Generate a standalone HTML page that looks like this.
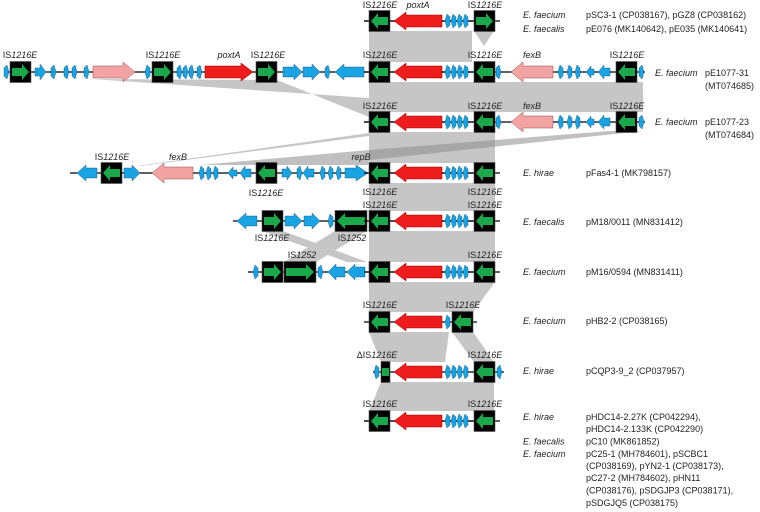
<!DOCTYPE html>
<html><head><meta charset="utf-8"><style>
html,body{margin:0;padding:0;background:#fff;}
svg{display:block;font-family:"Liberation Sans",sans-serif;}
.t{font-size:9px;fill:#222;}
.i{font-style:italic;}
</style></head><body>
<svg width="760" height="512" viewBox="0 0 760 512" xmlns="http://www.w3.org/2000/svg">
<defs>
<g id="isL"><rect x="0" y="-10.5" width="21" height="21" fill="#000" stroke="#555" stroke-width="0.6"/><polygon points="2,0 9,-8 9,-4 19,-4 19,4 9,4 9,8" fill="#1aa84a"/></g>
<g id="isR"><rect x="0" y="-10.5" width="21" height="21" fill="#000" stroke="#555" stroke-width="0.6"/><polygon points="19,0 12,-8 12,-4 2,-4 2,4 12,4 12,8" fill="#1aa84a"/></g>
<polygon id="tL" points="0,0 2,-7 5,-4 5,4 2,7" fill="#1aa3e3" stroke="#0b4f78" stroke-width="0.4"/>
<polygon id="tR" points="5,0 3,-7 0,-4 0,4 3,7" fill="#1aa3e3" stroke="#0b4f78" stroke-width="0.4"/>
<g id="core">
<line x1="364" y1="0" x2="474" y2="0" stroke="#000" stroke-width="1.2"/>
<use href="#isL" x="369"/>
<polygon points="394,0 406,-9 406,-6 442,-6 442,6 406,6 406,9" fill="#ee1c1c" stroke="#900" stroke-width="0.5"/>
<use href="#tL" x="445"/><use href="#tL" x="451"/><use href="#tL" x="457"/><use href="#tL" x="463"/>
</g>
</defs>

<g fill="#c6c6c6">
<rect x="369" y="31" width="103" height="31"/>
<polygon points="474,31 494,31 484,46"/>
<polygon points="92,79 277,80 369,117 369,98"/>
<rect x="369" y="82" width="274" height="30"/>
<rect x="369" y="132" width="126" height="31"/>
<polygon points="369,133 369,136 141,166 137,166"/>
<rect x="369" y="183" width="126" height="28"/>
<rect x="369" y="231" width="126" height="31"/>
<polygon points="262,231 283,231 367,262 347,262"/>
<polygon points="335,231 367,231 316,262 284,262"/>
<polygon points="369,282 495,282 473,312 369,312"/>
<polygon points="369,332 449,332 445,362 381,362"/>
<polygon points="452,332 473,332 494,362 474,362"/>
<polygon points="381,382 494,382 494,411 369,411"/>
</g>
<polygon points="643,131 610,131 369,150 200,165 368,165 369,160" fill="#8c8c8c" opacity="0.55"/>

<g transform="translate(0,21)">
<line x1="364" y1="0" x2="500" y2="0" stroke="#000" stroke-width="1.2"/>
<use href="#core"/><use href="#isR" x="474"/>
</g>
<g transform="translate(0,72)">
<line x1="4" y1="0" x2="645" y2="0" stroke="#000" stroke-width="1.2"/>
<use href="#tR" x="4"/><use href="#isR" x="10"/>
<polygon points="35,-4 40,-4 40,-8 46,0 40,8 40,4 35,4" fill="#1aa3e3" stroke="#0b4f78" stroke-width="0.4"/>
<use href="#tR" x="51"/><use href="#tR" x="64"/><use href="#tR" x="72"/><use href="#tR" x="84"/>
<polygon points="93,-6 123,-6 123,-10 135,0 123,10 123,6 93,6" fill="#f4a3a3" stroke="#8a5050" stroke-width="0.5"/>
<use href="#tL" x="145"/><use href="#isR" x="152"/>
<use href="#tR" x="177"/><use href="#tR" x="183"/><use href="#tR" x="189"/><use href="#tR" x="197"/>
<polygon points="205,-6 241,-6 241,-9 253,0 241,9 241,6 205,6" fill="#ee1c1c" stroke="#900" stroke-width="0.5"/>
<use href="#isR" x="256"/>
<polygon points="283,-5 294,-5 294,-8 302,0 294,8 294,5 283,5" fill="#1aa3e3" stroke="#0b4f78" stroke-width="0.4"/>
<polygon points="303,-5 312,-5 312,-8 320,0 312,8 312,5 303,5" fill="#1aa3e3" stroke="#0b4f78" stroke-width="0.4"/>
<use href="#tR" x="325"/>
<polygon points="335,0 344,-8 344,-5 364,-5 364,5 344,5 344,8" fill="#1aa3e3" stroke="#0b4f78" stroke-width="0.4"/>
<use href="#core"/><use href="#isL" x="474"/>
<use href="#tR" x="496"/>
<polygon points="511,0 523,-10 523,-6 553,-6 553,6 523,6 523,10" fill="#f4a3a3" stroke="#8a5050" stroke-width="0.5"/>
<use href="#tL" x="558"/><use href="#tL" x="567"/><use href="#tL" x="575"/>
<polygon points="586,0 591,-6 591,-3 594,-3 594,3 591,3 591,6" fill="#1aa3e3" stroke="#0b4f78" stroke-width="0.4"/>
<polygon points="598,0 604,-7 604,-4 610,-4 610,4 604,4 604,7" fill="#1aa3e3" stroke="#0b4f78" stroke-width="0.4"/>
<use href="#isL" x="616"/><use href="#tR" x="639"/>
</g>
<g transform="translate(0,122)">
<line x1="364" y1="0" x2="645" y2="0" stroke="#000" stroke-width="1.2"/>
<use href="#core"/><use href="#isL" x="474"/>
<use href="#tR" x="496"/>
<polygon points="511,0 523,-10 523,-6 553,-6 553,6 523,6 523,10" fill="#f4a3a3" stroke="#8a5050" stroke-width="0.5"/>
<use href="#tL" x="558"/><use href="#tL" x="567"/><use href="#tL" x="575"/>
<polygon points="586,0 591,-6 591,-3 594,-3 594,3 591,3 591,6" fill="#1aa3e3" stroke="#0b4f78" stroke-width="0.4"/>
<polygon points="598,0 604,-7 604,-4 610,-4 610,4 604,4 604,7" fill="#1aa3e3" stroke="#0b4f78" stroke-width="0.4"/>
<use href="#isL" x="616"/><use href="#tR" x="639"/>
</g>
<g transform="translate(0,173)">
<line x1="70" y1="0" x2="500" y2="0" stroke="#000" stroke-width="1.2"/>
<polygon points="77,0 86,-8 86,-5 97,-5 97,5 86,5 86,8" fill="#1aa3e3" stroke="#0b4f78" stroke-width="0.4"/>
<use href="#isL" x="101"/>
<polygon points="124,-5 132,-5 132,-8 140,0 132,8 132,5 124,5" fill="#1aa3e3" stroke="#0b4f78" stroke-width="0.4"/>
<polygon points="152,0 164,-10 164,-6 193,-6 193,6 164,6 164,10" fill="#f4a3a3" stroke="#8a5050" stroke-width="0.5"/>
<use href="#tL" x="199"/><use href="#tL" x="206"/><use href="#tL" x="213"/>
<polygon points="228,0 233,-6 233,-3 237,-3 237,3 233,3 233,6" fill="#1aa3e3" stroke="#0b4f78" stroke-width="0.4"/>
<polygon points="240,0 245,-7 245,-4 251,-4 251,4 245,4 245,7" fill="#1aa3e3" stroke="#0b4f78" stroke-width="0.4"/>
<use href="#isL" x="256"/>
<polygon points="282,-4 287,-4 287,-7 292,0 287,7 287,4 282,4" fill="#1aa3e3" stroke="#0b4f78" stroke-width="0.4"/>
<use href="#tR" x="297"/>
<polygon points="303,0 308,-7 308,-4 314,-4 314,4 308,4 308,7" fill="#1aa3e3" stroke="#0b4f78" stroke-width="0.4"/>
<use href="#tL" x="320"/><use href="#tL" x="328"/><use href="#tL" x="336"/>
<polygon points="345,-5 356,-5 356,-8 368,0 356,8 356,5 345,5" fill="#1aa3e3" stroke="#0b4f78" stroke-width="0.4"/>
<use href="#core"/><use href="#isL" x="474"/>
</g>
<g transform="translate(0,221)">
<line x1="233" y1="0" x2="500" y2="0" stroke="#000" stroke-width="1.2"/>
<polygon points="237,0 246,-8 246,-5 257,-5 257,5 246,5 246,8" fill="#1aa3e3" stroke="#0b4f78" stroke-width="0.4"/>
<use href="#isR" x="262"/>
<polygon points="285,-5 294,-5 294,-8 302,0 294,8 294,5 285,5" fill="#1aa3e3" stroke="#0b4f78" stroke-width="0.4"/>
<polygon points="304,-5 312,-5 312,-8 320,0 312,8 312,5 304,5" fill="#1aa3e3" stroke="#0b4f78" stroke-width="0.4"/>
<use href="#tL" x="328"/>
<rect x="335" y="-10.5" width="32" height="21" fill="#000" stroke="#555" stroke-width="0.6"/>
<polygon points="337,0 345,-8 345,-4 365,-4 365,4 345,4 345,8" fill="#1aa84a"/>
<use href="#core"/><use href="#isL" x="474"/>
</g>
<g transform="translate(0,272)">
<line x1="248" y1="0" x2="500" y2="0" stroke="#000" stroke-width="1.2"/>
<use href="#tL" x="253"/><use href="#isR" x="262"/>
<rect x="284" y="-10.5" width="32" height="21" fill="#000" stroke="#555" stroke-width="0.6"/>
<polygon points="314,0 306,-8 306,-4 286,-4 286,4 306,4 306,8" fill="#1aa84a"/>
<use href="#tR" x="318"/>
<polygon points="328,0 336,-8 336,-5 345,-5 345,5 336,5 336,8" fill="#1aa3e3" stroke="#0b4f78" stroke-width="0.4"/>
<polygon points="347,0 355,-8 355,-5 365,-5 365,5 355,5 355,8" fill="#1aa3e3" stroke="#0b4f78" stroke-width="0.4"/>
<use href="#core"/><use href="#isL" x="474"/>
</g>
<g transform="translate(0,322)">
<line x1="364" y1="0" x2="477" y2="0" stroke="#000" stroke-width="1.2"/>
<use href="#isL" x="369"/>
<polygon points="394,0 406,-9 406,-6 442,-6 442,6 406,6 406,9" fill="#ee1c1c" stroke="#900" stroke-width="0.5"/>
<use href="#tL" x="445"/><use href="#isL" x="452"/>
</g>
<g transform="translate(0,372)">
<line x1="373" y1="0" x2="504" y2="0" stroke="#000" stroke-width="1.2"/>
<use href="#tL" x="374"/>
<rect x="381" y="-10.5" width="9" height="21" fill="#000" stroke="#555" stroke-width="0.6"/>
<rect x="382" y="-4" width="7" height="8" fill="#1aa84a"/>
<polygon points="394,0 406,-9 406,-6 442,-6 442,6 406,6 406,9" fill="#ee1c1c" stroke="#900" stroke-width="0.5"/>
<use href="#tL" x="445"/><use href="#tL" x="451"/><use href="#tL" x="457"/><use href="#tL" x="463"/>
<use href="#isL" x="474"/><use href="#tR" x="497"/>
</g>
<g transform="translate(0,421)">
<line x1="364" y1="0" x2="500" y2="0" stroke="#000" stroke-width="1.2"/>
<use href="#core"/><use href="#isL" x="474"/>
</g>

<g class="t" text-anchor="middle">
<text x="380" y="8">IS<tspan class="i">1216E</tspan></text>
<text x="418" y="8" class="i">poxtA</text>
<text x="485" y="8">IS<tspan class="i">1216E</tspan></text>
<text x="20" y="58">IS<tspan class="i">1216E</tspan></text>
<text x="163" y="58">IS<tspan class="i">1216E</tspan></text>
<text x="229" y="58" class="i">poxtA</text>
<text x="268" y="58">IS<tspan class="i">1216E</tspan></text>
<text x="380" y="58">IS<tspan class="i">1216E</tspan></text>
<text x="485" y="58">IS<tspan class="i">1216E</tspan></text>
<text x="532" y="58" class="i">fexB</text>
<text x="627" y="58">IS<tspan class="i">1216E</tspan></text>
<text x="380" y="109">IS<tspan class="i">1216E</tspan></text>
<text x="485" y="109">IS<tspan class="i">1216E</tspan></text>
<text x="532" y="109" class="i">fexB</text>
<text x="627" y="109">IS<tspan class="i">1216E</tspan></text>
<text x="112" y="160">IS<tspan class="i">1216E</tspan></text>
<text x="178" y="160" class="i">fexB</text>
<text x="361" y="160" class="i">repB</text>
<text x="266" y="196">IS<tspan class="i">1216E</tspan></text>
<text x="380" y="195">IS<tspan class="i">1216E</tspan></text>
<text x="485" y="195">IS<tspan class="i">1216E</tspan></text>
<text x="380" y="208">IS<tspan class="i">1216E</tspan></text>
<text x="485" y="208">IS<tspan class="i">1216E</tspan></text>
<text x="272" y="241">IS<tspan class="i">1216E</tspan></text>
<text x="352" y="241">IS<tspan class="i">1252</tspan></text>
<text x="302" y="258">IS<tspan class="i">1252</tspan></text>
<text x="485" y="258">IS<tspan class="i">1216E</tspan></text>
<text x="380" y="308">IS<tspan class="i">1216E</tspan></text>
<text x="463" y="308">IS<tspan class="i">1216E</tspan></text>
<text x="377" y="358">ΔIS<tspan class="i">1216E</tspan></text>
<text x="485" y="358">IS<tspan class="i">1216E</tspan></text>
<text x="380" y="407">IS<tspan class="i">1216E</tspan></text>
<text x="485" y="407">IS<tspan class="i">1216E</tspan></text>
</g>

<g class="t">
<text x="523" y="18" class="i">E. faecium</text><text x="586" y="18">pSC3-1 (CP038167), pGZ8 (CP038162)</text>
<text x="523" y="32" class="i">E. faecalis</text><text x="586" y="32">pE076 (MK140642), pE035 (MK140641)</text>
<text x="655" y="76" class="i">E. faecium</text><text x="705" y="76">pE1077-31</text><text x="705" y="89">(MT074685)</text>
<text x="655" y="125" class="i">E. faecium</text><text x="705" y="125">pE1077-23</text><text x="705" y="138">(MT074684)</text>
<text x="523" y="176" class="i">E. hirae</text><text x="586" y="176">pFas4-1 (MK798157)</text>
<text x="523" y="225" class="i">E. faecalis</text><text x="586" y="225">pM18/0011 (MN831412)</text>
<text x="523" y="275" class="i">E. faecium</text><text x="586" y="275">pM16/0594 (MN831411)</text>
<text x="523" y="324" class="i">E. faecium</text><text x="586" y="324">pHB2-2 (CP038165)</text>
<text x="523" y="374" class="i">E. hirae</text><text x="586" y="374">pCQP3-9_2 (CP037957)</text>
<text x="523" y="420" class="i">E. hirae</text><text x="586" y="420">pHDC14-2.27K (CP042294),</text>
<text x="586" y="432">pHDC14-2.133K (CP042290)</text>
<text x="523" y="444.5" class="i">E. faecalis</text><text x="586" y="444.5">pC10 (MK861852)</text>
<text x="523" y="457" class="i">E. faecium</text><text x="586" y="457">pC25-1 (MH784601), pSCBC1</text>
<text x="586" y="469">(CP038169), pYN2-1 (CP038173),</text>
<text x="586" y="481">pC27-2 (MH784602), pHN11</text>
<text x="586" y="493.5">(CP038176), pSDGJP3 (CP038171),</text>
<text x="586" y="506">pSDGJQ5 (CP038175)</text>
</g>
</svg>
</body></html>
